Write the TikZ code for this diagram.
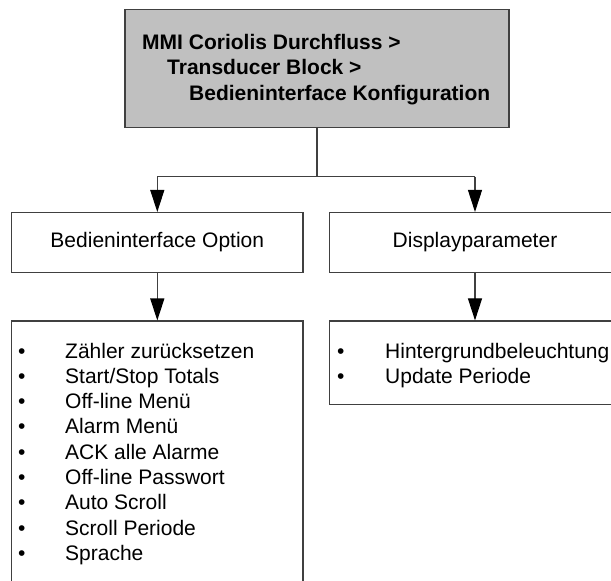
\documentclass[tikz,border=0pt]{standalone}
\usepackage{fontspec}
\setmainfont{Liberation Sans}
\usetikzlibrary{arrows.meta}
\definecolor{boxgray}{HTML}{C0C0C0}
\definecolor{linegray}{HTML}{404040}
\tikzset{
  box/.style={draw=linegray, line width=1.1pt, rectangle, inner sep=0pt, font=\fontsize{21}{25}\selectfont},
  txt/.style={inner sep=0pt, anchor=base west, font=\fontsize{21}{25}\selectfont},
  bul/.style={inner sep=0pt, anchor=base, font=\fontsize{21}{25}\selectfont},
  conn/.style={draw=linegray, line width=1.1pt},
  arr/.style={conn, -{Triangle[length=22pt, width=14pt, fill=black, color=black]}},
}
\begin{document}
\begin{tikzpicture}[x=1pt, y=-1pt]
\useasboundingbox (0,0) rectangle (611,581);
\fill[white] (0,0) rectangle (611,581);
\clip (0,0) rectangle (611,581);
% top box
\node[box, fill=boxgray, minimum width=384pt, minimum height=118.4pt] (top) at (317,68.5) {};
\node[txt, font=\fontsize{21}{25}\selectfont\bfseries] (t1) at (142,49.3) {MMI Coriolis Durchfluss >};
\node[txt, font=\fontsize{21}{25}\selectfont\bfseries] (t2) at (167,74.7) {Transducer Block >};
\node[txt, font=\fontsize{21}{25}\selectfont\bfseries] (t3) at (189,100) {Bedieninterface Konfiguration};
% middle boxes
\node[box, minimum width=291.3pt, minimum height=59.8pt] (opt) at (157.3,242.4) {Bedieninterface Option};
\node[box, minimum width=310.5pt, minimum height=59.8pt] (disp) at (484.75,242.4) {};
\coordinate (hr) at (475,176.7);
\node[inner sep=0pt, font=\fontsize{21}{25}\selectfont] (displbl) at (hr |- disp.center) {Displayparameter};
% bottom boxes
\node[box, minimum width=291.3pt, minimum height=279pt] (optlist) at (157.3,460.5) {};
\node[box, minimum width=310.5pt, minimum height=83.7pt] (displist) at (484.75,362.8) {};
% connectors
\coordinate (hl) at (157.3,176.7);
\draw[conn] (top.south) -- (top.south |- hl);
\draw[conn] (hl) -- (hr);
\draw[arr] (hl) -- (opt.north);
\draw[arr] (hr) -- (hr |- disp.north);
\draw[arr] (opt.south) -- (optlist.north);
\draw[arr] (hr |- disp.south) -- (hr |- displist.north);
% left list
\foreach \t [count=\i from 0] in {Zähler zurücksetzen, Start/Stop Totals, Off-line Menü, Alarm Menü, ACK alle Alarme, Off-line Passwort, Auto Scroll, Scroll Periode, Sprache}{
  \node[bul] (lb\i) at (21.7,{358+25.3*\i}) {•};
  \node[txt] (lt\i) at (65,{358+25.3*\i}) {\t};
}
% right list
\foreach \t [count=\i from 0] in {Hintergrundbeleuchtung, Update Periode}{
  \node[bul] (rb\i) at (340.7,{358+25.8*\i}) {•};
  \node[txt] (rt\i) at (385,{358+25.8*\i}) {\t};
}
\end{tikzpicture}
\end{document}
